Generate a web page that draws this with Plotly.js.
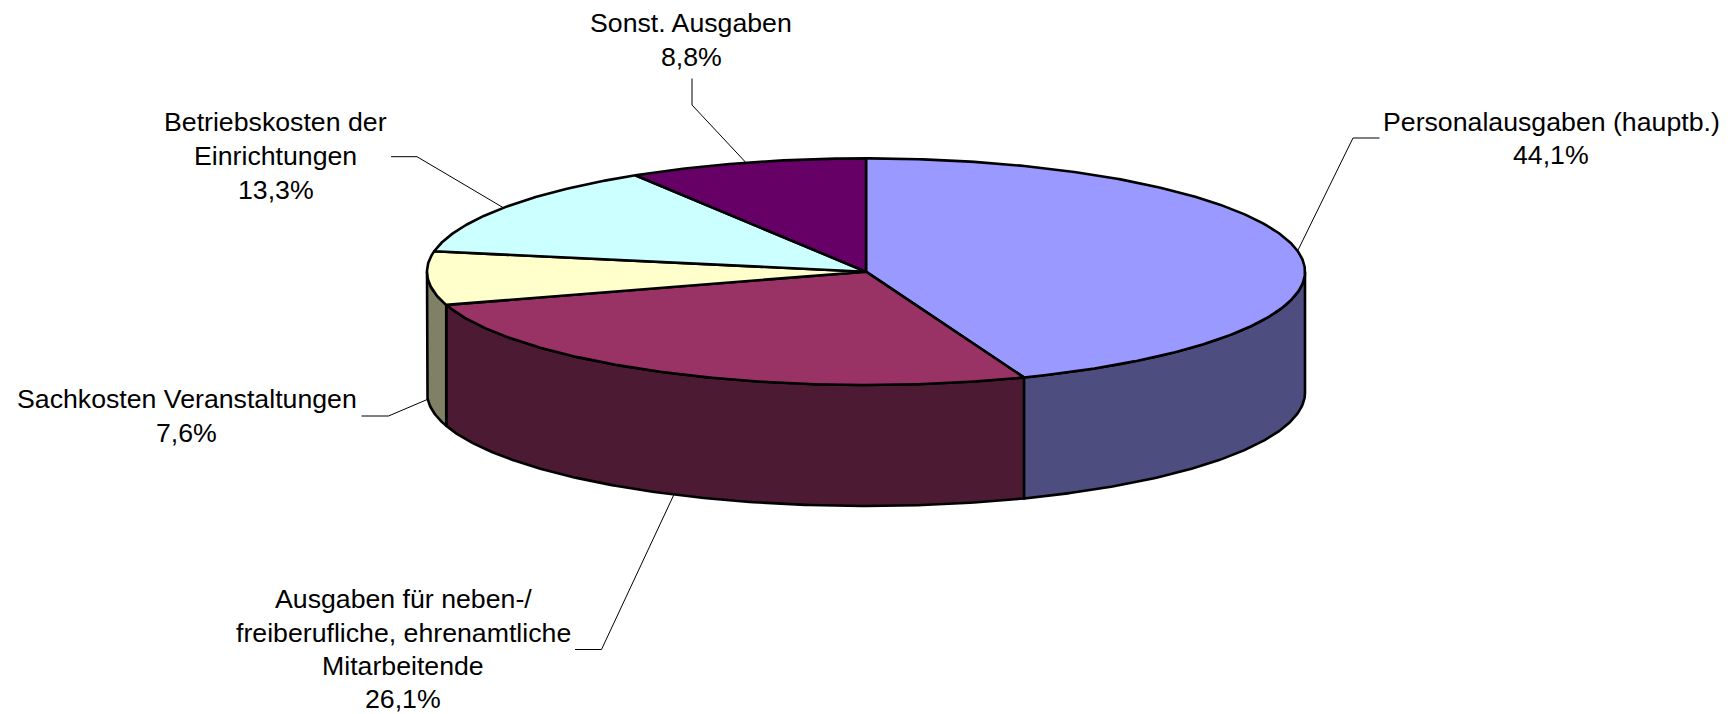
<!DOCTYPE html>
<html>
<head>
<meta charset="utf-8">
<script src="https://cdn.plot.ly/plotly-3.0.1.min.js"></script>
<style>html,body{margin:0;padding:0;background:#fff}#chart{width:1733px;height:714px}</style>
</head>
<body>
<div id="chart"></div>
<script>
const categories = ["Personalausgaben (hauptb.)", "Ausgaben für neben-/ freiberufliche, ehrenamtliche Mitarbeitende", "Sachkosten Veranstaltungen", "Betriebskosten der Einrichtungen", "Sonst. Ausgaben"];
const shares = [44.1, 26.1, 7.6, 13.3, 8.8];
const shareLabels = ["44,1%", "26,1%", "7,6%", "13,3%", "8,8%"];
const labelLines = [
  ["Personalausgaben (hauptb.)", "44,1%"],
  ["Ausgaben für neben-/", "freiberufliche, ehrenamtliche", "Mitarbeitende", "26,1%"],
  ["Sachkosten Veranstaltungen", "7,6%"],
  ["Betriebskosten der", "Einrichtungen", "13,3%"],
  ["Sonst. Ausgaben", "8,8%"]
];
const topColors = ["#9999FF", "#993366", "#FFFFCC", "#CCFFFF", "#660066"];
const sideColors = ["#4D4D80", "#4D1A33", "#808066", "#668080", "#330033"];

// layout of the pie (pixels of the plot area)
const cx = 866, cy = 271.7, rx = 439, ry = 113.3, depth = 121;
const labelCenters = [[1551, [122, 155]], [403, [599, 632.5, 666, 699]], [186.5, [399, 432.5]], [275.5, [122, 156, 189.5]], [691, [22.5, 57]]];
const elbows = [[[1379.5, 138], [1353, 138]], [[575, 649.5], [601.5, 649.5]], [[361.5, 416], [388.5, 416]], [[391, 156.7], [417, 156.7]], [[692, 78.5], [692, 105]]];

const total = shares.reduce((a, b) => a + b, 0);
const toAngle = s => s / total * 2 * Math.PI;
const ex = t => cx + rx * Math.sin(t);
const ey = (t, d) => cy - ry * Math.cos(t) + (d || 0);
function arc(a, b, d) {
  const n = Math.max(2, Math.ceil(Math.abs(b - a) / 0.01));
  const xs = [], ys = [];
  for (let i = 0; i <= n; i++) { const t = a + (b - a) * i / n; xs.push(ex(t)); ys.push(ey(t, d)); }
  return [xs, ys];
}

const traces = [];
const annotations = [];
let cum = 0;
const spans = shares.map(s => { const a = toAngle(cum); cum += s; return [a, toAngle(cum)]; });
const base = { type: "scatter", mode: "lines", fill: "toself", line: { color: "#000", width: 2.6 }, hoverinfo: "text", showlegend: false };

// side walls: only the front half of the disc is visible
spans.forEach(([a, b], i) => {
  const s = Math.max(a, Math.PI / 2), e = Math.min(b, 3 * Math.PI / 2);
  if (e <= s) return;
  const [x1, y1] = arc(s, e, 0), [x2, y2] = arc(e, s, depth);
  traces.push(Object.assign({}, base, {
    x: x1.concat(x2, [x1[0]]), y: y1.concat(y2, [y1[0]]),
    fillcolor: sideColors[i], text: categories[i] + ": " + shareLabels[i]
  }));
});
// top faces
spans.forEach(([a, b], i) => {
  const [x1, y1] = arc(a, b, 0);
  traces.push(Object.assign({}, base, {
    x: [cx].concat(x1, [cx]), y: [cy].concat(y1, [cy]),
    fillcolor: topColors[i], text: categories[i] + ": " + shareLabels[i]
  }));
});
// leader lines, ending on the rim at the middle of each slice
spans.forEach(([a, b], i) => {
  const m = (a + b) / 2;
  const front = Math.cos(m) < 0;
  const end = [ex(m), ey(m, front ? depth : 0)];
  const pts = elbows[i].concat([end]);
  traces.push({ type: "scatter", mode: "lines", x: pts.map(p => p[0]), y: pts.map(p => p[1]),
    line: { color: "#000", width: 1 }, hoverinfo: "skip", showlegend: false });
});
// labels
labelLines.forEach((lines, i) => {
  lines.forEach((txt, j) => {
    annotations.push({ x: labelCenters[i][0], y: labelCenters[i][1][j], xref: "x", yref: "y", text: txt,
      showarrow: false, xanchor: "center", yanchor: "middle",
      font: { family: "Liberation Sans, Arial, sans-serif", size: 26.7, color: "#000" } });
  });
});

Plotly.newPlot("chart", traces, {
  width: 1733, height: 714, margin: { l: 0, r: 0, t: 0, b: 0 },
  paper_bgcolor: "#fff", plot_bgcolor: "#fff", showlegend: false,
  xaxis: { range: [0, 1733], visible: false, fixedrange: true },
  yaxis: { range: [714, 0], visible: false, fixedrange: true },
  annotations
}, { displayModeBar: false, staticPlot: false });
</script>
</body>
</html>
